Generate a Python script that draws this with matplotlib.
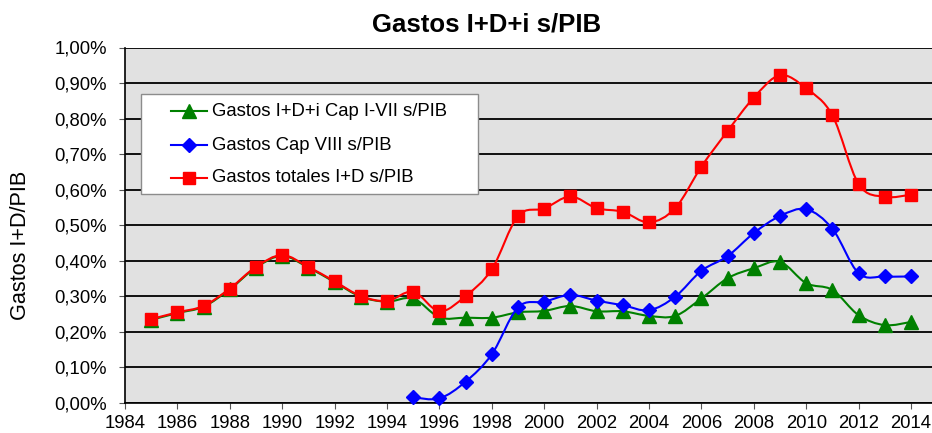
import matplotlib
matplotlib.use("Agg")
import matplotlib.pyplot as plt
from matplotlib.path import Path
from matplotlib.patches import PathPatch, Rectangle
from matplotlib.lines import Line2D
from matplotlib.ticker import FuncFormatter, MultipleLocator
import numpy as np

plt.rcParams['font.family'] = ['Liberation Sans', 'DejaVu Sans']

# ---- data ----
years = list(range(1985, 2015))
gastos_totales = [0.236, 0.255, 0.273, 0.322, 0.383, 0.416, 0.383, 0.342, 0.301, 0.287,
                  0.313, 0.258, 0.301, 0.376, 0.526, 0.547, 0.581, 0.548, 0.538, 0.508,
                  0.548, 0.665, 0.765, 0.859, 0.922, 0.885, 0.809, 0.616, 0.580, 0.586]
gastos_cap1_7 = [0.234, 0.253, 0.271, 0.320, 0.381, 0.414, 0.381, 0.340, 0.299, 0.285,
                 0.294, 0.241, 0.240, 0.240, 0.255, 0.259, 0.273, 0.258, 0.258, 0.245,
                 0.245, 0.294, 0.351, 0.379, 0.397, 0.337, 0.318, 0.247, 0.219, 0.228]
years_cap8 = list(range(1995, 2015))
gastos_cap8 = [0.016, 0.013, 0.060, 0.137, 0.269, 0.285, 0.304, 0.288, 0.275, 0.261,
               0.299, 0.372, 0.413, 0.478, 0.526, 0.545, 0.490, 0.365, 0.356, 0.356]
xtick_years = list(range(1984, 2015, 2))

labels = ["Gastos I+D+i Cap I-VII s/PIB", "Gastos Cap VIII s/PIB", "Gastos totales I+D s/PIB"]
colors = ["#008000", "#0000FF", "#FF0000"]
markers = ["^", "D", "s"]
msizes = [9.5, 6.8, 9.2]

W, H = 932, 433
fig = plt.figure(figsize=(W / 100, H / 100), dpi=100)
ax_l, ax_r, ax_t, ax_b = 125, 932, 47.5, 403
ax = fig.add_axes([ax_l / W, 1 - ax_b / H, (ax_r - ax_l) / W, (ax_b - ax_t) / H])
ax.set_facecolor("#E1E1E1")


def smooth_path(xs, ys):
    """Excel-like smoothed line (Catmull-Rom as cubic Bezier) through the data."""
    pts = np.column_stack([xs, ys]).astype(float)
    n = len(pts)
    verts = [pts[0]]
    codes = [Path.MOVETO]
    for i in range(n - 1):
        p0 = pts[i - 1] if i > 0 else pts[i]
        p1 = pts[i]
        p2 = pts[i + 1]
        p3 = pts[i + 2] if i + 2 < n else pts[i + 1]
        c1 = p1 + (p2 - p0) / 6.0
        c2 = p2 - (p3 - p1) / 6.0
        verts += [c1, c2, p2]
        codes += [Path.CURVE4] * 3
    return Path(verts, codes)


series = [(years, gastos_cap1_7), (years_cap8, gastos_cap8), (years, gastos_totales)]
for k, (xs, ys) in enumerate(series):
    patch = PathPatch(smooth_path(xs, ys), facecolor="none", edgecolor=colors[k],
                      lw=1.5, zorder=3 + k)
    ax.add_patch(patch)
    ax.plot(xs, ys, linestyle="none", marker=markers[k], markersize=msizes[k],
            color=colors[k], markeredgecolor=colors[k], zorder=3.5 + k, clip_on=False)

ax.set_xlim(1984, 1984 + (ax_r - ax_l) / 26.2)
ax.set_ylim(0, 1.0)
ax.set_xticks(xtick_years)
ax.yaxis.set_major_locator(MultipleLocator(0.1))
ax.yaxis.set_major_formatter(FuncFormatter(lambda v, p: f"{v:.2f}".replace(".", ",") + "%"))
ax.grid(axis="y", color="black", lw=1.3, zorder=1)
ax.set_axisbelow(True)
for s in ["top", "right"]:
    ax.spines[s].set_visible(False)
for s in ["left", "bottom"]:
    ax.spines[s].set_color("black")
    ax.spines[s].set_linewidth(1.2)
ax.tick_params(axis="both", direction="out", length=4.5, width=0.8, color="#555555",
               labelsize=13.3)
ax.tick_params(axis="y", pad=8.5)
ax.tick_params(axis="x", pad=4.5)

fig.text(487 / W, 1 - 24 / H, "Gastos I+D+i s/PIB", ha="center", va="center",
         fontsize=18.5, fontweight="bold")
fig.text(21 / W, 1 - 245 / H, "Gastos I+D/PIB", ha="center", va="center",
         rotation=90, fontsize=15.6)


# legend box (pixel layout)
def fx(px):
    return px / W


def fy(py):
    return 1 - py / H


fig.add_artist(Rectangle((fx(140.7), fy(194.3)), fx(478.3) - fx(140.7), fy(94.3) - fy(194.3),
                         transform=fig.transFigure, facecolor="white",
                         edgecolor="#8C8C8C", lw=1.0, zorder=10))
rows = [111, 145, 178]
for k in range(3):
    yy = fy(rows[k])
    fig.add_artist(Line2D([fx(171), fx(207)], [yy, yy], transform=fig.transFigure,
                          color=colors[k], lw=1.5, zorder=11))
    fig.add_artist(Line2D([fx(189)], [yy], transform=fig.transFigure, marker=markers[k],
                          markersize=msizes[k], color=colors[k], linestyle="none", zorder=12))
    fig.text(fx(211.5), yy, labels[k], ha="left", va="center", fontsize=13.3, zorder=12)

fig.savefig("out.png", dpi=100)
